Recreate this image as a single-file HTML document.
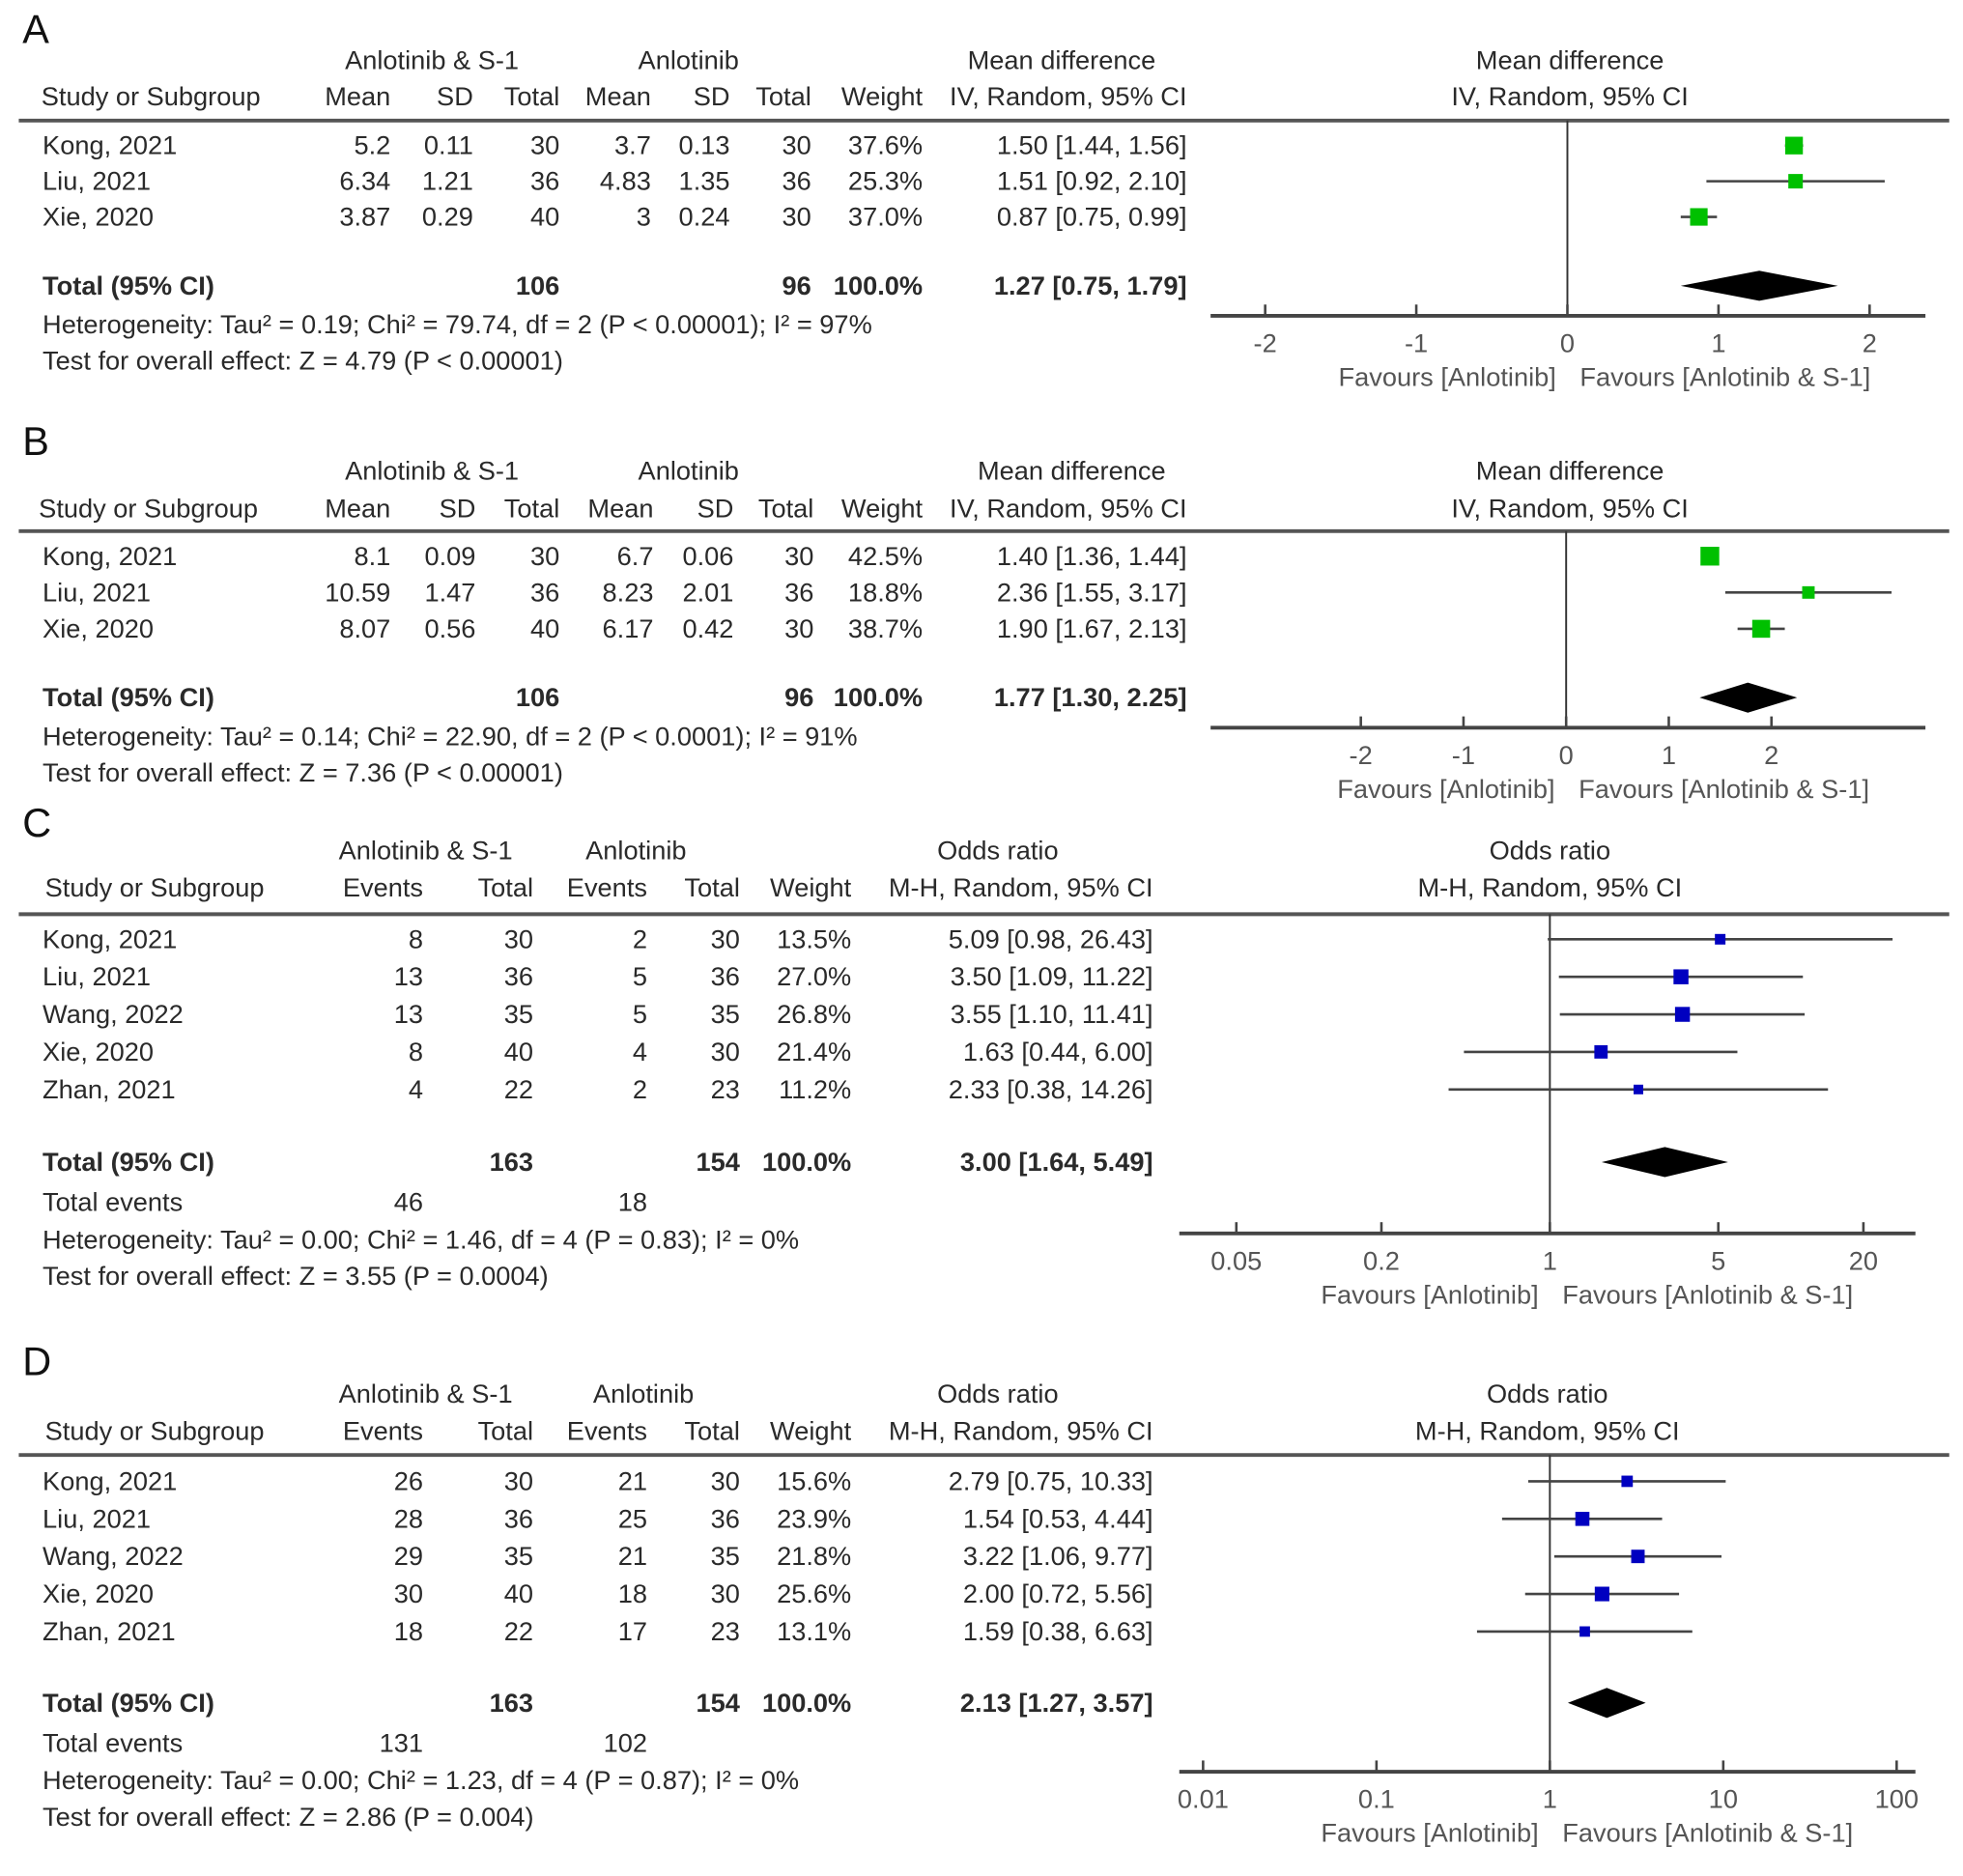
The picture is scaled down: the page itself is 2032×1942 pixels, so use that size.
<!DOCTYPE html>
<html><head><meta charset="utf-8"><style>
html,body{margin:0;padding:0;background:#fff;}
svg{display:block;font-family:"Liberation Sans",Arial,sans-serif;}
text{fill:#2a2a2a;font-size:21px;}
.b{font-weight:bold;}
.g{fill:#555;}
</style></head><body>
<svg id="fig" width="2032" height="1942" viewBox="0 0 1568 1498" xmlns="http://www.w3.org/2000/svg"></svg>
<script>
// ---- Panel A data ----
const aStudies = ["Kong, 2021", "Liu, 2021", "Xie, 2020"];
const aEst = [1.50, 1.51, 0.87];
const aLo = [1.44, 0.92, 0.75];
const aHi = [1.56, 2.10, 0.99];
const aWeight = [37.6, 25.3, 37.0];
const aTotal = [1.27, 0.75, 1.79];
const aTicks = [-2, -1, 0, 1, 2];
const aCells = [["5.2","0.11","30","3.7","0.13","30"],["6.34","1.21","36","4.83","1.35","36"],["3.87","0.29","40","3","0.24","30"]];
// ---- Panel B data ----
const bStudies = ["Kong, 2021", "Liu, 2021", "Xie, 2020"];
const bEst = [1.40, 2.36, 1.90];
const bLo = [1.36, 1.55, 1.67];
const bHi = [1.44, 3.17, 2.13];
const bWeight = [42.5, 18.8, 38.7];
const bTotal = [1.77, 1.30, 2.25];
const bTicks = [-2, -1, 0, 1, 2];
const bCells = [["8.1","0.09","30","6.7","0.06","30"],["10.59","1.47","36","8.23","2.01","36"],["8.07","0.56","40","6.17","0.42","30"]];
// ---- Panel C data ----
const cStudies = ["Kong, 2021", "Liu, 2021", "Wang, 2022", "Xie, 2020", "Zhan, 2021"];
const cEst = [5.09, 3.50, 3.55, 1.63, 2.33];
const cLo = [0.98, 1.09, 1.10, 0.44, 0.38];
const cHi = [26.43, 11.22, 11.41, 6.00, 14.26];
const cWeight = [13.5, 27.0, 26.8, 21.4, 11.2];
const cTotal = [3.00, 1.64, 5.49];
const cTicks = [0.05, 0.2, 1, 5, 20];
const cCells = [["8","30","2","30"],["13","36","5","36"],["13","35","5","35"],["8","40","4","30"],["4","22","2","23"]];
// ---- Panel D data ----
const dStudies = ["Kong, 2021", "Liu, 2021", "Wang, 2022", "Xie, 2020", "Zhan, 2021"];
const dEst = [2.79, 1.54, 3.22, 2.00, 1.59];
const dLo = [0.75, 0.53, 1.06, 0.72, 0.38];
const dHi = [10.33, 4.44, 9.77, 5.56, 6.63];
const dWeight = [15.6, 23.9, 21.8, 25.6, 13.1];
const dTotal = [2.13, 1.27, 3.57];
const dTicks = [0.01, 0.1, 1, 10, 100];
const dCells = [["26","30","21","30"],["28","36","25","36"],["29","35","21","35"],["30","40","18","30"],["18","22","17","23"]];

const svg = document.getElementById('fig');
const NS = 'http://www.w3.org/2000/svg';
function mk(tag, attrs, parent) {
  const e = document.createElementNS(NS, tag);
  for (const k in attrs) e.setAttribute(k, attrs[k]);
  (parent || svg).appendChild(e);
  return e;
}
function txt(x, y, s, anchor, cls, name) {
  const t = mk('text', {x: x, y: y, 'text-anchor': anchor || 'start'});
  if (cls) t.setAttribute('class', cls);
  t.textContent = s;
  
  
  return t;
}
function fmt(v) { return v.toFixed(2); }
function fmtT(v) { return String(v); }

function panel(p) {
  const g = mk('g', {});
  
  
  const L = txt(18, p.top + 8, p.letter, 'start', null, 'panel-label');
  L.setAttribute('style', 'font-size:32px;fill:#111');
  // headers
  txt(p.grp1, p.h1, 'Anlotinib & S-1', 'middle', null, 'group-header-combo');
  txt(p.grp2, p.h1, 'Anlotinib', 'middle', null, 'group-header-anlotinib');
  txt(p.effC, p.h1, p.effName, 'middle', null, 'effect-header');
  txt(p.plotC, p.h1, p.effName, 'middle', null, 'plot-effect-header');
  txt(p.studyX, p.h2, 'Study or Subgroup', 'start', null, 'study-column-header');
  p.colHeads.forEach((h, i) => txt(p.cols[i], p.h2, h, 'end', null, 'column-header'));
  txt(p.wX, p.h2, 'Weight', 'end', null, 'weight-header');
  txt(p.ciX, p.h2, p.method, 'end', null, 'ci-header');
  txt(p.plotC, p.h2, p.method, 'middle', null, 'plot-method-header');
  const sep = mk('line', {x1: 15, x2: 1557, y1: p.sep, y2: p.sep, stroke: '#555', 'stroke-width': 3});
  
  
  // rows
  p.studies.forEach((s, i) => {
    const y = p.rows[0] + i * p.rowH;
    txt(34, y, s, 'start', null, 'study-name');
    p.cells[i].forEach((c, j) => txt(p.cols[j], y, c, 'end', null, 'study-cell'));
    txt(p.wX, y, p.weight[i].toFixed(1) + '%', 'end', null, 'study-weight');
    txt(p.ciX, y, fmt(p.est[i]) + ' [' + fmt(p.lo[i]) + ', ' + fmt(p.hi[i]) + ']', 'end', null, 'study-ci');
  });
  txt(34, p.totY, 'Total (95% CI)', 'start', 'b', 'total-label');
  txt(p.cols[p.totCol1], p.totY, p.totN[0], 'end', 'b', 'total-n-combo');
  txt(p.cols[p.totCol2], p.totY, p.totN[1], 'end', 'b', 'total-n-anlotinib');
  txt(p.wX, p.totY, '100.0%', 'end', 'b', 'total-weight');
  txt(p.ciX, p.totY, fmt(p.total[0]) + ' [' + fmt(p.total[1]) + ', ' + fmt(p.total[2]) + ']', 'end', 'b', 'total-ci');
  let ly = p.totY + 32;
  if (p.events) {
    txt(34, ly, 'Total events', 'start', null, 'total-events-label');
    txt(p.cols[0], ly, p.events[0], 'end', null, 'total-events-combo');
    txt(p.cols[2], ly, p.events[1], 'end', null, 'total-events-anlotinib');
    ly += 30;
  } else ly -= 1;
  txt(34, ly, p.het, 'start', null, 'heterogeneity-text');
  txt(34, ly + 29, p.test, 'start', null, 'overall-effect-text');
  // plot
  const X = p.xf;
  const zero = mk('line', {x1: X(p.nullV), x2: X(p.nullV), y1: p.sep, y2: p.axY, stroke: '#333', 'stroke-width': 1.5});
  
  
  p.studies.forEach((s, i) => {
    const y = p.rows[0] + i * p.rowH - 7;
    const ci = mk('line', {x1: X(p.lo[i]), x2: X(p.hi[i]), y1: y, y2: y, stroke: '#444', 'stroke-width': 2});
    
    
    const sz = 2.3 * Math.sqrt(p.weight[i]);
    const sq = mk('rect', {x: X(p.est[i]) - sz / 2, y: y - sz / 2, width: sz, height: sz, fill: p.color});
    
    
  });
  const dy = p.totY - 7, dh = 12;
  const dia = mk('polygon', {points: X(p.total[1]) + ',' + dy + ' ' + X(p.total[0]) + ',' + (dy - dh) + ' ' + X(p.total[2]) + ',' + dy + ' ' + X(p.total[0]) + ',' + (dy + dh), fill: '#000'});
  
  
  const ax = mk('line', {x1: p.axX[0], x2: p.axX[1], y1: p.axY, y2: p.axY, stroke: '#444', 'stroke-width': 3});
  
  
  p.ticks.forEach(t => {
    const tk = mk('line', {x1: X(t), x2: X(t), y1: p.axY - 9, y2: p.axY, stroke: '#444', 'stroke-width': 2});
    
    
    txt(X(t), p.axY + 29, fmtT(t), 'middle', 'g', 'x-tick-label');
  });
  txt(X(p.nullV) - 9, p.axY + 56, 'Favours [Anlotinib]', 'end', 'g', 'favours-control-label');
  txt(X(p.nullV) + 10, p.axY + 56, 'Favours [Anlotinib & S-1]', 'start', 'g', 'favours-treatment-label');
}

const mdCols = [312, 378, 447, 520, 583, 648];
const orCols = [338, 426, 517, 591];
panel({letter: 'A', top: 26, h1: 55, h2: 84, sep: 96, rows: [123], rowH: 28.5, totY: 235,
  studies: aStudies, est: aEst, lo: aLo, hi: aHi, weight: aWeight, total: aTotal, ticks: aTicks, cells: aCells,
  grp1: 345, grp2: 550, effC: 848, plotC: 1254, effName: 'Mean difference', method: 'IV, Random, 95% CI',
  colHeads: ['Mean', 'SD', 'Total', 'Mean', 'SD', 'Total'], cols: mdCols, wX: 737, ciX: 948, studyX: 33,
  totCol1: 2, totCol2: 5, totN: ['106', '96'], color: '#00c000',
  het: 'Heterogeneity: Tau\u00b2 = 0.19; Chi\u00b2 = 79.74, df = 2 (P < 0.00001); I\u00b2 = 97%',
  test: 'Test for overall effect: Z = 4.79 (P < 0.00001)',
  xf: v => 1252 + v * 120.7, nullV: 0, axY: 252, axX: [967, 1538]});
panel({letter: 'B', top: 355, h1: 383, h2: 413, sep: 424, rows: [451], rowH: 29, totY: 564,
  studies: bStudies, est: bEst, lo: bLo, hi: bHi, weight: bWeight, total: bTotal, ticks: bTicks, cells: bCells,
  grp1: 345, grp2: 550, effC: 856, plotC: 1254, effName: 'Mean difference', method: 'IV, Random, 95% CI',
  colHeads: ['Mean', 'SD', 'Total', 'Mean', 'SD', 'Total'], cols: [312, 380, 447, 522, 586, 650], wX: 737, ciX: 948, studyX: 31,
  totCol1: 2, totCol2: 5, totN: ['106', '96'], color: '#00c000',
  het: 'Heterogeneity: Tau\u00b2 = 0.14; Chi\u00b2 = 22.90, df = 2 (P < 0.0001); I\u00b2 = 91%',
  test: 'Test for overall effect: Z = 7.36 (P < 0.00001)',
  xf: v => 1251 + v * 82, nullV: 0, axY: 581, axX: [967, 1538]});
panel({letter: 'C', top: 660, h1: 686, h2: 716, sep: 730, rows: [757], rowH: 30, totY: 935,
  studies: cStudies, est: cEst, lo: cLo, hi: cHi, weight: cWeight, total: cTotal, ticks: cTicks, cells: cCells,
  grp1: 340, grp2: 508, effC: 797, plotC: 1238, effName: 'Odds ratio', method: 'M-H, Random, 95% CI',
  colHeads: ['Events', 'Total', 'Events', 'Total'], cols: orCols, wX: 680, ciX: 921, studyX: 36,
  totCol1: 1, totCol2: 3, totN: ['163', '154'], events: ['46', '18'], color: '#0000c0',
  het: 'Heterogeneity: Tau\u00b2 = 0.00; Chi\u00b2 = 1.46, df = 4 (P = 0.83); I\u00b2 = 0%',
  test: 'Test for overall effect: Z = 3.55 (P = 0.0004)',
  xf: v => 1238 + Math.log10(v) * 192.5, nullV: 1, axY: 985, axX: [942, 1530]});
panel({letter: 'D', top: 1090, h1: 1120, h2: 1150, sep: 1162, rows: [1190], rowH: 30, totY: 1367,
  studies: dStudies, est: dEst, lo: dLo, hi: dHi, weight: dWeight, total: dTotal, ticks: dTicks, cells: dCells,
  grp1: 340, grp2: 514, effC: 797, plotC: 1236, effName: 'Odds ratio', method: 'M-H, Random, 95% CI',
  colHeads: ['Events', 'Total', 'Events', 'Total'], cols: orCols, wX: 680, ciX: 921, studyX: 36,
  totCol1: 1, totCol2: 3, totN: ['163', '154'], events: ['131', '102'], color: '#0000c0',
  het: 'Heterogeneity: Tau\u00b2 = 0.00; Chi\u00b2 = 1.23, df = 4 (P = 0.87); I\u00b2 = 0%',
  test: 'Test for overall effect: Z = 2.86 (P = 0.004)',
  xf: v => 1238 + Math.log10(v) * 138.5, nullV: 1, axY: 1415, axX: [942, 1530]});
</script>
</body></html>
